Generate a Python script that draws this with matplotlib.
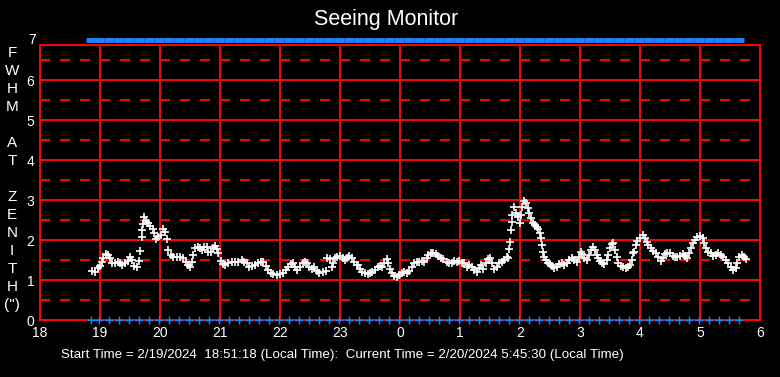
import matplotlib
matplotlib.use("Agg")
import matplotlib.pyplot as plt

plt.rcParams["font.family"] = ["Liberation Sans", "DejaVu Sans"]
plt.rcParams["lines.scale_dashes"] = False

# seeing samples: minutes after 18:00 local, FWHM at zenith (arcsec)
seeing_min = [
    51.7, 55.0, 58.3, 60.0, 61.7, 63.3, 65.7, 67.7, 70.0, 72.3, 75.0, 77.7, 80.0, 82.3,
    85.0, 87.7, 90.0, 92.3, 94.3, 96.7, 99.3, 100.3, 101.7, 102.3, 103.3, 104.3, 105.7,
    107.7, 110.0, 112.7, 114.3, 116.0, 118.3, 121.0, 123.3, 125.0, 127.3, 128.3, 131.0,
    133.3, 136.7, 140.0, 143.3, 146.0, 147.7, 150.0, 151.7, 153.3, 155.0, 157.7, 160.0,
    161.7, 164.3, 166.7, 168.3, 171.0, 173.3, 175.0, 176.7, 178.3, 181.0, 183.3,
    185.0, 188.3, 191.7, 195.0, 198.3, 201.7, 204.0, 206.7, 209.3, 211.7, 215.0, 218.3,
    220.7, 223.3, 226.0, 228.3, 230.7, 233.3, 236.7, 240.0, 243.3, 246.0, 248.3, 250.7,
    252.7, 255.0, 257.3, 260.0, 262.7, 265.0, 267.3, 269.3, 271.7, 274.0, 276.7, 279.3,
    282.7, 286.0, 287.3, 290.0, 291.7, 293.3, 295.0, 297.3, 300.0, 302.7, 305.0, 307.3,
    309.3, 311.7, 314.0, 316.7, 317.7, 320.0, 322.3, 325.0, 327.7, 330.0, 332.3, 335.0,
    337.7, 340.0, 342.3, 344.3, 346.7, 348.3, 350.0, 352.3, 354.3, 356.7, 359.0, 361.7,
    364.3, 366.7, 369.0, 371.7, 374.3, 376.7, 379.0, 381.7, 384.3, 386.7, 388.3, 391.0,
    393.3, 395.7, 398.3, 401.0, 403.3, 406.7, 409.0, 411.7, 414.3, 416.7, 419.0, 421.7,
    424.3, 426.7, 429.0, 431.7, 434.3, 436.7, 439.0, 441.0, 443.3, 445.7, 447.7, 450.0,
    451.7, 454.3, 456.7, 459.0, 461.7, 464.3, 466.7, 468.3, 469.0, 470.0, 471.0, 471.7,
    472.3, 474.3, 475.7, 477.7, 480.0, 481.0, 482.3, 484.3, 485.7, 487.7, 489.0, 491.0,
    493.3, 495.0, 496.7, 498.3, 500.0, 501.0, 502.3, 503.3, 504.3, 505.7, 507.7, 510.0,
    512.3, 514.3, 516.7, 519.0, 521.7, 524.3, 526.7, 529.0, 531.7, 534.3, 536.7, 539.0,
    541.0, 542.3, 544.3, 546.7, 549.0, 551.0, 553.3, 555.0, 556.7, 558.3, 560.0, 562.3,
    564.3, 566.7, 568.3, 570.0, 571.7, 573.3, 575.0, 576.7, 578.3, 581.0, 583.3, 585.7,
    588.3, 590.0, 591.7, 593.3, 594.0, 596.0, 597.3, 600.0, 602.7, 605.0, 606.7, 608.3,
    610.7, 613.3, 616.0, 618.3, 620.7, 622.7, 625.0, 627.3, 630.0, 632.7, 635.0, 637.3,
    640.0, 642.7, 645.0, 647.3, 649.3, 651.0, 652.7, 655.0, 657.3, 660.0, 662.7, 664.0,
    666.0, 668.3, 670.7, 673.3, 676.0, 678.3, 680.7, 683.3, 686.0, 688.3, 690.7, 693.3,
    696.0, 697.3, 699.3, 701.7, 704.0, 706.0,
]
seeing_fwhm = [
    1.22, 1.21, 1.29, 1.35, 1.46, 1.54, 1.65, 1.62, 1.54, 1.43, 1.42, 1.46, 1.43, 1.37,
    1.42, 1.48, 1.58, 1.50, 1.35, 1.33, 1.48, 1.72, 2.07, 2.25, 2.40, 2.58, 2.48,
    2.42, 2.35, 2.27, 2.17, 2.02, 2.08, 2.12, 2.27, 2.21, 2.02, 1.75, 1.62,
    1.58, 1.58, 1.58, 1.54, 1.46, 1.37, 1.32, 1.46, 1.62, 1.79, 1.83, 1.79,
    1.75, 1.82, 1.83, 1.71, 1.71, 1.79, 1.85, 1.77, 1.68, 1.48, 1.40,
    1.37, 1.42, 1.46, 1.46, 1.46, 1.50, 1.46, 1.42, 1.33, 1.35, 1.37, 1.42,
    1.46, 1.46, 1.35, 1.25, 1.18, 1.15, 1.12, 1.15, 1.18, 1.25, 1.32, 1.39,
    1.42, 1.33, 1.25, 1.33, 1.42, 1.46, 1.42, 1.32, 1.28, 1.33, 1.23, 1.18,
    1.21, 1.23, 1.54, 1.52, 1.33, 1.43, 1.54, 1.58, 1.60, 1.54, 1.50, 1.54,
    1.60, 1.54, 1.46, 1.37, 1.37, 1.27, 1.21, 1.17, 1.15, 1.18, 1.21, 1.25,
    1.32, 1.35, 1.32, 1.42, 1.52, 1.43, 1.27, 1.17, 1.10, 1.07, 1.12, 1.18,
    1.21, 1.18, 1.23, 1.33, 1.43, 1.46, 1.46, 1.48, 1.46, 1.54, 1.62, 1.67,
    1.68, 1.65, 1.60, 1.54, 1.52, 1.46, 1.42, 1.43, 1.48, 1.46, 1.48, 1.43,
    1.42, 1.33, 1.37, 1.32, 1.25, 1.21, 1.29, 1.37, 1.27, 1.43, 1.52, 1.54,
    1.42, 1.27, 1.33, 1.42, 1.46, 1.50, 1.57, 1.54, 1.77, 1.96, 2.25, 2.46,
    2.62, 2.83, 2.67, 2.58, 2.42, 2.62, 2.83, 2.98, 2.92, 2.79, 2.67, 2.54,
    2.42, 2.38, 2.33, 2.27, 2.17, 2.04, 1.88, 1.71, 1.58, 1.50, 1.43, 1.40,
    1.35, 1.29, 1.33, 1.40, 1.43, 1.37, 1.43, 1.50, 1.54, 1.50, 1.46, 1.58,
    1.71, 1.65, 1.54, 1.50, 1.62, 1.75, 1.82, 1.75, 1.62, 1.54, 1.48, 1.43,
    1.40, 1.50, 1.62, 1.79, 1.90, 1.93, 1.75, 1.58, 1.43, 1.35, 1.32, 1.29,
    1.32, 1.37, 1.50, 1.68, 1.69, 1.88, 1.98, 2.04, 2.12, 2.04, 1.96, 1.88,
    1.79, 1.73, 1.67, 1.58, 1.48, 1.54, 1.65, 1.68, 1.67, 1.60, 1.58, 1.57,
    1.60, 1.65, 1.60, 1.54, 1.67, 1.79, 1.92, 2.00, 2.07, 2.10, 2.04, 1.93,
    1.79, 1.71, 1.67, 1.60, 1.62, 1.67, 1.62, 1.58, 1.50, 1.42, 1.33, 1.25,
    1.29, 1.42, 1.57, 1.62, 1.58, 1.52,
]

# blue status marks (minutes after 18:00), drawn at 0 and at the top
status_min = [
    51, 59, 69, 79, 89, 99, 109, 119, 129, 139, 149, 159, 169, 179, 189, 199, 209,
    219, 229, 239, 249, 259, 269, 279, 289, 299, 309, 319, 329, 339, 349, 359, 369,
    379, 389, 399, 409, 419, 429, 439, 449, 459, 469, 479, 489, 499, 509, 519, 529,
    539, 549, 559, 569, 579, 589, 599, 609, 619, 629, 639, 649, 659, 669, 679, 689, 699,
]
status_low = [0] * len(status_min)
status_top = [7] * len(status_min)

hour_ticks = [18, 19, 20, 21, 22, 23, 24, 25, 26, 27, 28, 29, 30]
hour_labels = ["18", "19", "20", "21", "22", "23", "0", "1", "2", "3", "4", "5", "6"]
fwhm_ticks = [0, 1, 2, 3, 4, 5, 6]
fwhm_half = [0.5, 1.5, 2.5, 3.5, 4.5, 5.5, 6.5]
ylabel_chars = ["F", "W", "H", "M", "", "A", "T", "", "Z", "E", "N", "I", "T", "H", '(")']

seeing_hr = [18 + m / 60 for m in seeing_min]
status_hr = [18 + m / 60 for m in status_min]

W, H = 780, 377
fig = plt.figure(figsize=(W / 100, H / 100), dpi=100, facecolor="black")
ax = fig.add_axes([40 / W, 57 / H, 720 / W, 275 / H], facecolor="black")
ax.set_xlim(18, 30)
ax.set_ylim(0, 6.875)

red = "#ff0000"
blue = "#1e82ff"
lw = 1.44
for y in fwhm_ticks[1:]:
    ax.axhline(y, color=red, lw=lw, zorder=1)
for y in fwhm_half:
    ax.plot([18, 30], [y, y], color=red, lw=lw, dashes=(7.2, 7.2), zorder=1)
for x in hour_ticks[1:-1]:
    ax.axvline(x, color=red, lw=lw, zorder=1)
for s in ax.spines.values():
    s.set_color(red)
    s.set_linewidth(lw)

ax.plot(seeing_hr, seeing_fwhm, ls="none", marker="+", ms=5.4, mew=1.2,
        color="white", zorder=3)
ax.plot(status_hr, status_low, ls="none", marker="+", ms=5.2, mew=1.0,
        color=blue, zorder=3, clip_on=False)
ax.plot(status_hr, status_top, ls="none", marker="_", ms=6.6, mew=3.6,
        color=blue, zorder=3, clip_on=False)

ax.set_xticks(hour_ticks)
ax.set_xticklabels(hour_labels)
ax.set_yticks(fwhm_ticks)
ax.tick_params(length=0, colors="white", labelsize=10, pad=4)
ax.text(-0.006, 7, "7", transform=ax.get_yaxis_transform(), ha="right",
        va="center", color="white", fontsize=10)

fig.text(386 / W, 1 - 20 / H, "Seeing Monitor", ha="center", va="center",
         color="white", fontsize=15.5)

for i, ch in enumerate(ylabel_chars):
    fig.text(12 / W, 1 - (53 + 18 * i) / H, ch, ha="center", va="center",
             color="white", fontsize=11)

fig.text(342 / W, 1 - 355 / H,
         "Start Time = 2/19/2024  18:51:18 (Local Time):  "
         "Current Time = 2/20/2024 5:45:30 (Local Time)",
         ha="center", va="center", color="white", fontsize=9.6)

fig.savefig("out.png", dpi=100, facecolor="black")
